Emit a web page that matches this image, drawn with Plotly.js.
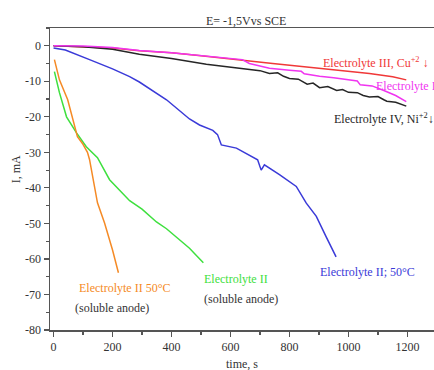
<!DOCTYPE html>
<html>
<head>
<meta charset="utf-8">
<script src="https://cdn.plot.ly/plotly-3.0.1.min.js"></script>
<style>html,body{margin:0;padding:0;background:#fff;}#chart{width:434px;height:370px;}</style>
</head>
<body>
<div id="chart"></div>
<script>
// Electrolyte III, Cu+2 (red)
const redT = [0, 100, 200, 291, 400, 500, 573, 650, 743, 850, 950, 1071, 1150, 1196];
const redI = [0, -0.2, -0.6, -1.4, -2.0, -2.8, -3.5, -4.2, -5.0, -5.9, -6.7, -7.8, -8.7, -9.6];
// Electrolyte I (magenta)
const pinkT = [0, 100, 200, 291, 400, 500, 573, 640, 664, 700, 732, 800, 840, 850, 902, 950, 1000, 1030, 1040, 1080, 1120, 1160, 1196];
const pinkI = [0, -0.1, -0.5, -1.3, -2.0, -2.8, -3.4, -3.9, -5.0, -5.6, -6.3, -6.9, -7.2, -7.9, -8.6, -9.0, -9.6, -9.9, -11.0, -11.3, -12.6, -14.0, -15.7];
// Electrolyte IV, Ni+2 (black)
const blackT = [0, 100, 200, 291, 400, 518, 630, 700, 732, 760, 780, 800, 830, 860, 880, 902, 930, 960, 980, 1000, 1030, 1050, 1071, 1100, 1120, 1130, 1160, 1180, 1196];
const blackI = [0, -0.3, -1.0, -2.4, -3.6, -5.2, -6.3, -7.0, -7.8, -7.6, -8.6, -9.2, -9.4, -10.8, -10.5, -11.8, -11.5, -12.6, -12.3, -13.1, -13.2, -14.0, -14.4, -14.3, -15.2, -15.6, -15.9, -16.4, -17.0];
// Electrolyte II; 50°C (blue)
const blueT = [0, 40, 122, 200, 258, 291, 383, 461, 495, 540, 556, 569, 620, 692, 704, 715, 766, 823, 857, 891, 924, 958];
const blueI = [-0.6, -1.2, -3.9, -6.5, -8.7, -10.2, -15.2, -20.6, -22.3, -23.8, -25.0, -27.9, -28.8, -32.1, -35.0, -33.5, -36.3, -39.6, -44.3, -48.0, -53.7, -59.4];
// Electrolyte II (soluble anode) (green)
const greenT = [3, 20, 44, 78, 111, 149, 190, 258, 300, 349, 383, 427, 461, 490, 508];
const greenI = [-7.3, -13.2, -20.0, -24.5, -28.4, -31.5, -37.7, -43.6, -46.0, -49.6, -51.5, -54.6, -57.0, -59.5, -61.1];
// Electrolyte II 50°C (soluble anode) (orange)
const orangeT = [3, 20, 48, 66, 81, 98, 115, 122, 135, 149, 173, 200, 220];
const orangeI = [-3.9, -9.6, -15.2, -20.8, -25.6, -27.5, -30.0, -32.0, -38.0, -44.2, -49.9, -57.5, -63.9];

const xTickVals = [0, 200, 400, 600, 800, 1000, 1200];
const yTickVals = [0, -10, -20, -30, -40, -50, -60, -70, -80];
const yTickText = ['0', '-10', '-20', '-30', '-40', '-50', '-60', '-70', '-80'];

const font = 'Liberation Serif';
function tr(x, y, c) {
  return {x: x, y: y, type: 'scatter', mode: 'lines', line: {color: c, width: 1.5}, hoverinfo: 'skip', showlegend: false};
}
const data = [
  tr(redT, redI, '#f03838'),
  tr(blackT, blackI, '#262626'),
  tr(pinkT, pinkI, '#f035f0'),
  tr(blueT, blueI, '#3a3ad8'),
  tr(greenT, greenI, '#3ee03e'),
  tr(orangeT, orangeI, '#f58a25')
];
function ann(x, y, text, color, extra) {
  return Object.assign({x: x, y: y, xref: 'x', yref: 'y', text: text, showarrow: false,
    xanchor: 'left', yanchor: 'middle', font: {family: font, size: 12, color: color}}, extra || {});
}
const layout = {
  width: 434, height: 370,
  margin: {l: 50, r: 0, t: 28, b: 40},
  paper_bgcolor: '#fff', plot_bgcolor: '#fff',
  font: {family: font, size: 12, color: '#333'},
  showlegend: false,
  xaxis: {
    range: [-12, 1290], showgrid: false, zeroline: false,
    showline: true, linecolor: '#555', linewidth: 1.5, mirror: true,
    ticks: 'outside', ticklen: 5, tickcolor: '#555', tickwidth: 1.2,
    tickvals: xTickVals, tickfont: {family: font, size: 12, color: '#333'},
    minor: {dtick: 100, tick0: 0, ticks: 'outside', ticklen: 3, tickcolor: '#555'}
  },
  yaxis: {
    range: [-80, 5], showgrid: false, zeroline: false,
    showline: true, linecolor: '#555', linewidth: 1.5,
    ticks: 'outside', ticklen: 5, tickcolor: '#555', tickwidth: 1.2,
    tickvals: yTickVals, ticktext: yTickText, tickfont: {family: font, size: 12, color: '#333'},
    minor: {dtick: 5, tick0: 0, ticks: 'outside', ticklen: 3, tickcolor: '#555'}
  },
  annotations: [
    {x: 0.51, y: 1.023, xref: 'paper', yref: 'paper', text: 'E= -1,5Vvs SCE', showarrow: false,
      xanchor: 'center', yanchor: 'middle', font: {family: font, size: 12, color: '#333'}},
    {x: 0.5, y: -0.112, xref: 'paper', yref: 'paper', text: 'time, s', showarrow: false,
      xanchor: 'center', yanchor: 'middle', font: {family: font, size: 12, color: '#333'}},
    {x: -0.088, y: 0.533, xref: 'paper', yref: 'paper', text: 'I, mA', showarrow: false, textangle: -90,
      xanchor: 'center', yanchor: 'middle', font: {family: font, size: 12, color: '#333'}},
    ann(908, -4.8, 'Electrolyte III, Cu<sup>+2</sup> ↓', '#f03838'),
    ann(1085, -11.3, 'Electrolyte I', '#f035f0'),
    ann(945, -20.6, 'Electrolyte IV, Ni<sup>+2</sup>↓', '#262626'),
    ann(895, -63.6, 'Electrolyte II; 50°C', '#3a3ad8'),
    ann(502, -65.6, 'Electrolyte II', '#3ee03e'),
    ann(502, -71.3, '(soluble anode)', '#333'),
    ann(78, -68.2, 'Electrolyte II 50°C', '#f58a25'),
    ann(65, -73.8, '(soluble anode)', '#333')
  ]
};
Plotly.newPlot('chart', data, layout, {displayModeBar: false, staticPlot: true});
</script>
</body>
</html>
